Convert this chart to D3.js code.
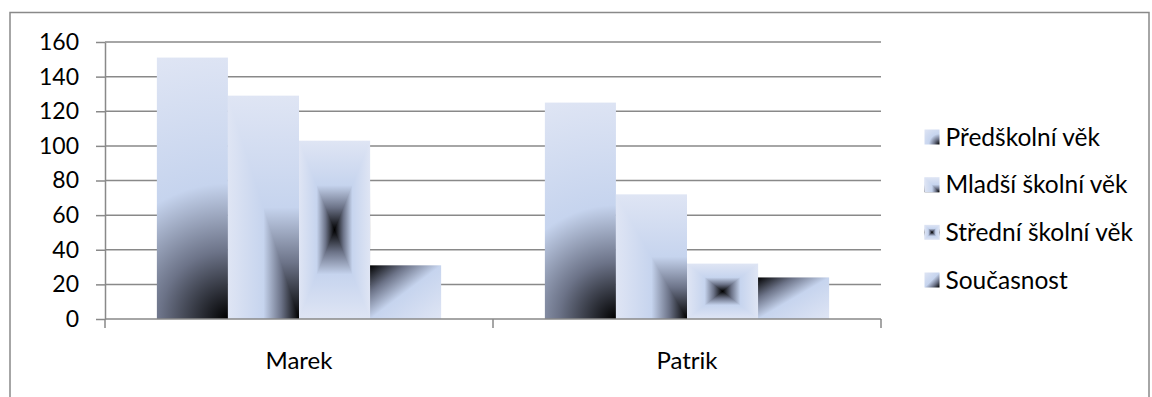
<!DOCTYPE html>
<html>
<head>
<meta charset="utf-8">
<script src="https://cdn.jsdelivr.net/npm/d3@7"></script>
<style>
  html, body { margin: 0; padding: 0; background: #ffffff; }
  svg { display: block; }
  text { font-family: Lato, "Open Sans", sans-serif; fill: #000000; }
</style>
</head>
<body>
<svg id="chart" width="1152" height="397"></svg>
<script>
// ---- data ----
const categories = ["Marek", "Patrik"];
const seriesNames = ["Předškolní věk", "Mladší školní věk", "Střední školní věk", "Současnost"];
const predskolniVek = [151, 125];
const mladsiSkolniVek = [129, 72];
const stredniSkolniVek = [103, 32];
const soucasnost = [31, 24];
const yTicks = [0, 20, 40, 60, 80, 100, 120, 140, 160];

const seriesValues = [predskolniVek, mladsiSkolniVek, stredniSkolniVek, soucasnost];

// ---- layout ----
const plot = { left: 105, right: 881, top: 42, bottom: 319 };
const gridColor = "#898989";
const tickFont = 23, categoryFont = 24, legendFont = 24.5;

const svg = d3.select("#chart");
const defs = svg.append("defs");

// colour ramp: t = 0 at the dark focus, t = 1 at the pale far edge
const ramp = [[0, "#000000"], [0.25, "#6c7388"], [0.5, "#c6d4ee"], [1, "#dfe5f4"]];
// the same ramp folded around the middle (dark centre, pale on both sides)
const folded = ramp.slice().reverse().map(([t, c]) => [0.5 - t / 2, c])
  .concat(ramp.slice(1).map(([t, c]) => [0.5 + t / 2, c]));

let gradId = 0;
function addStops(g, stops) {
  stops.forEach(([o, c]) => g.append("stop").attr("offset", o).attr("stop-color", c));
}
function linearFill(x1, y1, x2, y2, stops) {
  const id = "grad" + (gradId++);
  const g = defs.append("linearGradient").attr("id", id)
    .attr("x1", x1).attr("y1", y1).attr("x2", x2).attr("y2", y2);
  addStops(g, stops || ramp);
  return `url(#${id})`;
}
function radialFill(cx, cy, r) {
  const id = "grad" + (gradId++);
  const g = defs.append("radialGradient").attr("id", id)
    .attr("gradientUnits", "userSpaceOnUse")
    .attr("cx", cx).attr("cy", cy).attr("fx", cx).attr("fy", cy).attr("r", r);
  addStops(g, ramp);
  return `url(#${id})`;
}

// one painter per series; each fills the box (x, y, w, h) inside group g
const painters = [
  // radial shading from the bottom-right corner
  (g, x, y, w, h) => {
    g.append("rect").attr("x", x).attr("y", y).attr("width", w).attr("height", h)
      .attr("fill", radialFill(x + w, y + h, Math.hypot(w, h)));
  },
  // rectangular shading from the bottom-right corner
  (g, x, y, w, h) => {
    g.append("rect").attr("x", x).attr("y", y).attr("width", w).attr("height", h)
      .attr("fill", linearFill(0, 1, 0, 0));
    g.append("path")
      .attr("d", `M${x + w},${y + h}L${x},${y}L${x},${y + h}Z`)
      .attr("fill", linearFill(1, 0, 0, 0));
  },
  // rectangular shading from the centre
  (g, x, y, w, h) => {
    const cx = x + w / 2, cy = y + h / 2;
    g.append("rect").attr("x", x).attr("y", y).attr("width", w).attr("height", h)
      .attr("fill", linearFill(0, 0, 0, 1, folded));
    g.append("path")
      .attr("d", `M${x},${y}L${cx},${cy}L${x},${y + h}Z M${x + w},${y}L${cx},${cy}L${x + w},${y + h}Z`)
      .attr("fill", linearFill(0, 0, 1, 0, folded));
  },
  // diagonal shading from the top-left corner (reversed in the legend key)
  (g, x, y, w, h, key) => {
    g.append("rect").attr("x", x).attr("y", y).attr("width", w).attr("height", h)
      .attr("fill", key ? linearFill(1, 1, 0, 0) : linearFill(0, 0, 1, 1));
  }
];

// ---- outer frame ----
svg.append("rect")
  .attr("x", 10).attr("y", 12.5).attr("width", 1139).attr("height", 420)
  .attr("fill", "none").attr("stroke", gridColor).attr("stroke-width", 1.5);

// ---- scales ----
const y = d3.scaleLinear().domain([0, 160]).range([plot.bottom, plot.top]);
const x0 = d3.scaleBand().domain(categories).range([plot.left, plot.right]).padding(0);
const x1 = d3.scaleBand().domain(seriesNames).range([0, x0.bandwidth()])
  .paddingInner(0).paddingOuter(0.73);

// ---- gridlines ----
svg.append("g").selectAll("line").data(yTicks.filter(d => d > 0)).join("line")
  .attr("x1", plot.left).attr("x2", plot.right)
  .attr("y1", d => y(d)).attr("y2", d => y(d))
  .attr("stroke", gridColor).attr("stroke-width", 1.5);

// ---- bars ----
const barsG = svg.append("g");
categories.forEach((cat, ci) => {
  seriesNames.forEach((name, si) => {
    const v = seriesValues[si][ci];
    const bx = x0(cat) + x1(name);
    const by = y(v);
    const g = barsG.append("g");
    painters[si](g, bx, by, x1.bandwidth(), y(0) - by);
  });
});

// ---- y axis ----
const yAxis = svg.append("g")
  .attr("transform", `translate(${plot.left},0)`)
  .call(d3.axisLeft(y).tickValues(yTicks).tickSize(9).tickSizeOuter(0).tickPadding(17));
yAxis.select(".domain").attr("stroke", gridColor).attr("stroke-width", 1.5);
yAxis.selectAll(".tick line").attr("stroke", gridColor).attr("stroke-width", 1.5);
yAxis.selectAll("text").attr("font-size", tickFont).attr("font-family", "Lato, 'Open Sans', sans-serif");

// ---- x axis ----
const xAxis = svg.append("g")
  .attr("transform", `translate(0,${plot.bottom})`)
  .call(d3.axisBottom(x0).tickSize(0).tickPadding(33));
xAxis.select(".domain").attr("stroke", gridColor).attr("stroke-width", 1.5)
  .attr("d", `M${plot.left},0H${plot.right}`);
xAxis.selectAll("text").attr("font-size", categoryFont).attr("font-family", "Lato, 'Open Sans', sans-serif");

// category boundary ticks
const bounds = categories.map(c => x0(c)).concat([x0(categories[categories.length - 1]) + x0.bandwidth()]);
xAxis.append("g").selectAll("line").data(bounds).join("line")
  .attr("x1", d => d).attr("x2", d => d).attr("y1", 0).attr("y2", 9)
  .attr("stroke", gridColor).attr("stroke-width", 1.5);

// ---- legend ----
const legend = svg.append("g").attr("transform", "translate(924.5,0)");
const keySize = 15;
const rowY = d3.scaleLinear().domain([0, 3]).range([137, 280]);
seriesNames.forEach((name, si) => {
  const cy = rowY(si);
  const g = legend.append("g");
  painters[si](g, 0, cy - keySize / 2, keySize, keySize, true);
  legend.append("text")
    .attr("x", 21).attr("y", cy + 8.5)
    .attr("font-size", legendFont)
    .text(name);
});
</script>
</body>
</html>
